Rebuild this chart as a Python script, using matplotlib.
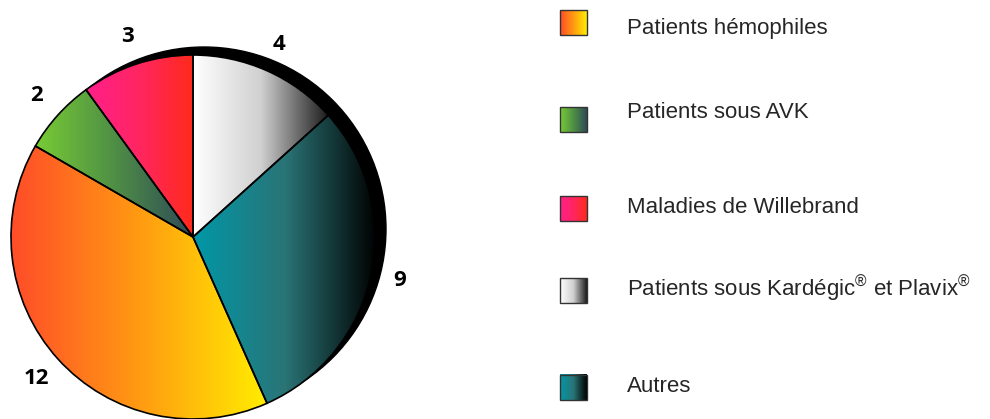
import matplotlib.pyplot as plt
import numpy as np
from matplotlib.colors import LinearSegmentedColormap
from matplotlib.patches import Circle, Rectangle

plt.rcParams['mathtext.fontset'] = 'custom'
plt.rcParams['mathtext.rm'] = 'Liberation Sans'

# Données (ordre de la légende)
categories = ['Patients hémophiles', 'Patients sous AVK', 'Maladies de Willebrand',
              'Patients sous Kardégic$^{\\mathregular{®}}$ et Plavix$^{\\mathregular{®}}$',
              'Autres']
values = [12, 2, 3, 4, 9]
# ordre des parts dans le camembert, sens anti-horaire depuis le haut
pie_order = [2, 1, 0, 4, 3]

# dégradés horizontaux de chaque catégorie
gradients = [
    ['#ff4a2a', '#ff9a12', '#ffee00'],
    ['#78cc35', '#4f8f45', '#2e4a58'],
    ['#ff1f8c', '#ff2660', '#ff2a1c'],
    ['#ffffff', '#d0d0d0', '#1a1a1a'],
    ['#0098a8', '#2a7476', '#000000'],
]
cmaps = [LinearSegmentedColormap.from_list('g%d' % i, c) for i, c in enumerate(gradients)]
ramp = np.linspace(0, 1, 256).reshape(1, -1)

W, H = 990, 419
fig = plt.figure(figsize=(9.9, 4.19), dpi=100)
ax = fig.add_axes([0, 0, 1, 1])

cx, cy, r = 193, H - 237, 182

# ombre noire derrière le disque
ax.add_patch(Circle((cx + 11, cy + 8), r, color='black', zorder=1))

wedges, texts = ax.pie([values[i] for i in pie_order],
                       labels=[str(values[i]) for i in pie_order],
                       startangle=90, counterclock=True,
                       center=(cx, cy), radius=r, labeldistance=1.16,
                       frame=True,
                       wedgeprops=dict(edgecolor='black', linewidth=1.2, zorder=3),
                       textprops=dict(fontsize=16, fontweight='bold',
                                      family='Open Sans', color='black'))

for w, i in zip(wedges, pie_order):
    w.set_facecolor('none')
    verts = w.get_path().vertices
    x0, x1 = verts[:, 0].min(), verts[:, 0].max()
    im = ax.imshow(ramp, extent=(x0, x1, cy - r, cy + r), cmap=cmaps[i],
                   aspect='auto', interpolation='bicubic', zorder=2)
    im.set_clip_path(w)

for t in texts:
    t.set_ha('center')
    t.set_va('center')

# légende
box_tops = [10, 107, 196, 278, 375]
baselines = [34, 118, 213, 296, 392]
for i, name in enumerate(categories):
    top = H - box_tops[i]
    ax.imshow(ramp, extent=(560, 587, top - 25, top), cmap=cmaps[i],
              aspect='auto', interpolation='bicubic', zorder=2)
    ax.add_patch(Rectangle((560, top - 25), 27, 25, fill=False,
                           edgecolor='#333333', linewidth=1, zorder=3))
    ax.text(627, H - baselines[i], name, fontsize=16, family='Liberation Sans',
            color='#262626', ha='left', va='baseline')

ax.set_xlim(0, W)
ax.set_ylim(0, H)
ax.set_aspect('auto')
ax.axis('off')

fig.savefig('out.png', dpi=100)
